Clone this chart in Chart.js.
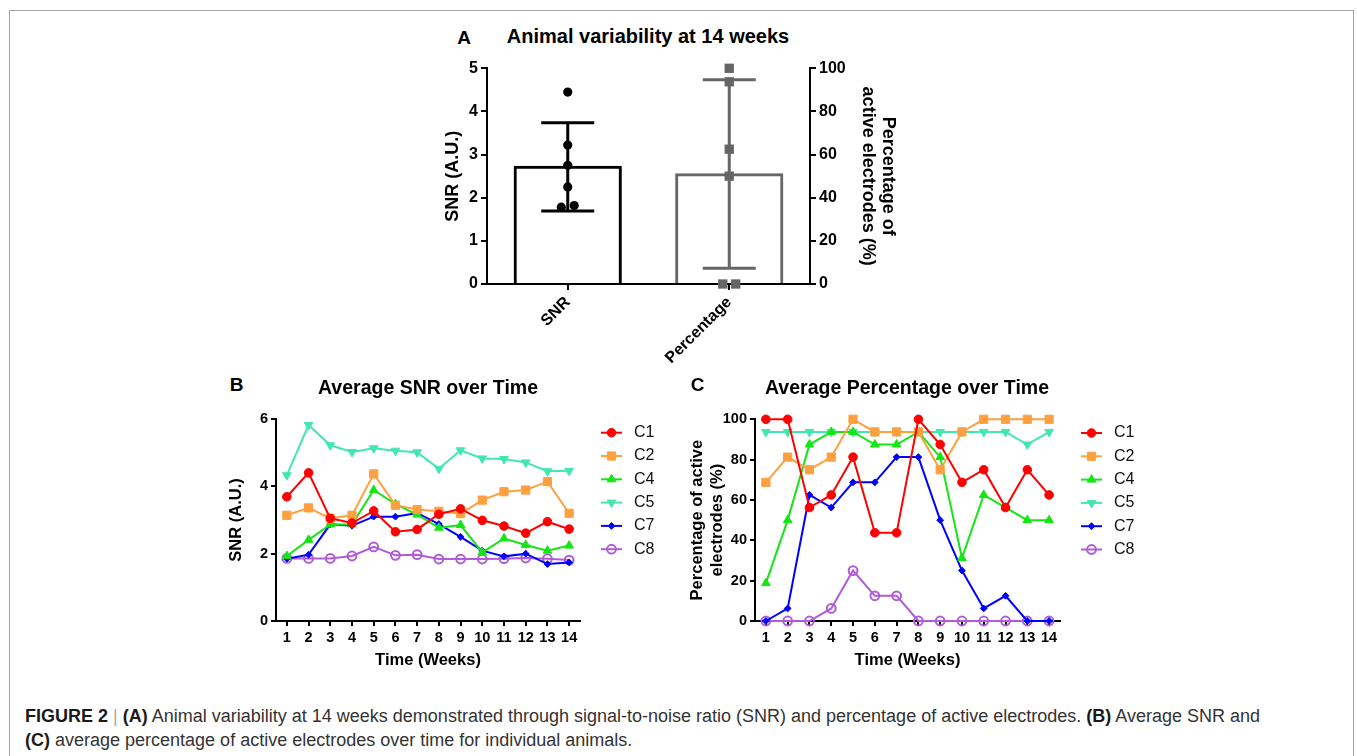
<!DOCTYPE html>
<html>
<head>
<meta charset="utf-8">
<title>Figure 2</title>
<script src="https://cdn.jsdelivr.net/npm/chart.js@4.4.1/dist/chart.umd.min.js"></script>
<style>
  html, body { margin: 0; padding: 0; background: #fff; }
  #page { position: relative; width: 1357px; height: 756px; overflow: hidden; background: #fff;
          font-family: "Liberation Sans", Arial, sans-serif; }
  .frame { position: absolute; left: 9px; top: 10px; width: 1345px; height: 800px; box-sizing: border-box;
           border: 1.5px solid #a3a3a3; border-bottom: none; }
  .box { position: absolute; }
  .lbl { position: absolute; transform: translate(-50%, -50%); line-height: 1; font-weight: bold;
         color: #000; white-space: nowrap; }
  .caption { position: absolute; left: 25px; top: 704px; font-size: 18px; line-height: 24px; color: #333;
             white-space: nowrap; }
  .caption b { color: #1a1a1a; }
  .caption .sep { color: #aaa; }
</style>
</head>
<body>
<div id="page">
  <div class="frame"></div>

  <div class="lbl" style="left:464px; top:36.7px; font-size:19px;">A</div>
  <div class="lbl" style="left:648px; top:36.3px; font-size:20px;">Animal variability at 14 weeks</div>
  <div class="box" style="left:438px; top:40px;"><canvas id="chartA" width="464" height="340"></canvas></div>

  <div class="lbl" style="left:236.5px; top:383.5px; font-size:19px;">B</div>
  <div class="lbl" style="left:428px; top:388.3px; font-size:19.5px;">Average SNR over Time</div>
  <div class="box" style="left:223px; top:400px;"><canvas id="chartB" width="447" height="274"></canvas></div>

  <div class="lbl" style="left:697.5px; top:383.5px; font-size:19px;">C</div>
  <div class="lbl" style="left:907px; top:388.3px; font-size:19.5px;">Average Percentage over Time</div>
  <div class="box" style="left:683px; top:400px;"><canvas id="chartC" width="467" height="274"></canvas></div>

  <div class="caption"><b>FIGURE 2</b> <span class="sep">|</span> <b>(A)</b> Animal variability at 14 weeks demonstrated through signal-to-noise ratio (SNR) and percentage of active electrodes. <b>(B)</b> Average SNR and<br><b>(C)</b> average percentage of active electrodes over time for individual animals.</div>
</div>

<script>
// ---- panel A: animal variability at week 14
const groupLabels = ['SNR', 'Percentage'];
const groupMeans = [2.74, 51.4];
const groupLow = [1.69, 7.3];
const groupHigh = [3.74, 94.7];
const snrAt14 = [4.45, 3.22, 2.75, 2.25, 1.78, 1.82];
const pctAt14 = [100, 93.75, 62.5, 50, 0, 0];

// ---- panels B and C: per animal over time
const weeks = ['1', '2', '3', '4', '5', '6', '7', '8', '9', '10', '11', '12', '13', '14'];
const animals = ['C1', 'C2', 'C4', 'C5', 'C7', 'C8'];

const snrC1 = [3.69, 4.40, 3.05, 2.91, 3.27, 2.65, 2.72, 3.17, 3.33, 2.99, 2.82, 2.61, 2.95, 2.73];
const snrC2 = [3.14, 3.36, 3.05, 3.14, 4.37, 3.44, 3.31, 3.26, 3.19, 3.59, 3.84, 3.89, 4.14, 3.20];
const snrC4 = [1.93, 2.41, 2.87, 2.87, 3.89, 3.47, 3.16, 2.77, 2.85, 2.04, 2.45, 2.26, 2.09, 2.24];
const snrC5 = [4.33, 5.82, 5.22, 5.02, 5.13, 5.06, 5.01, 4.52, 5.07, 4.83, 4.81, 4.71, 4.45, 4.46];
const snrC7 = [1.85, 1.97, 2.87, 2.83, 3.10, 3.10, 3.21, 2.88, 2.50, 2.09, 1.92, 2.00, 1.69, 1.74];
const snrC8 = [1.86, 1.86, 1.86, 1.93, 2.20, 1.95, 1.97, 1.84, 1.84, 1.84, 1.85, 1.87, 1.85, 1.81];

const pctC1 = [100, 100, 56.25, 62.5, 81.25, 43.75, 43.75, 100, 87.5, 68.75, 75, 56.25, 75, 62.5];
const pctC2 = [68.75, 81.25, 75, 81.25, 100, 93.75, 93.75, 93.75, 75, 93.75, 100, 100, 100, 100];
const pctC4 = [18.75, 50, 87.5, 93.75, 93.75, 87.5, 87.5, 93.75, 81.25, 31.25, 62.5, 56.25, 50, 50];
const pctC5 = [93.75, 93.75, 93.75, 93.75, 93.75, 93.75, 93.75, 93.75, 93.75, 93.75, 93.75, 93.75, 87.5, 93.75];
const pctC7 = [0, 6.25, 62.5, 56.25, 68.75, 68.75, 81.25, 81.25, 50, 25, 6.25, 12.5, 0, 0];
const pctC8 = [0, 0, 0, 6.25, 25, 12.5, 12.5, 0, 0, 0, 0, 0, 0, 0];

// look of each animal's line (same order as animals)
const seriesLook = [
  { color: '#ff0000', style: 'circle', r: 4.3, fill: true },
  { color: '#ffa040', style: 'rect', r: 5.8, fill: true },
  { color: '#14e614', style: 'triangle', r: 5, fill: true },
  { color: '#40e8b0', style: 'triangle', r: 5, fill: true, rot: 180 },
  { color: '#0000ff', style: 'rectRot', r: 3.4, fill: true },
  { color: '#b05cd8', style: 'circle', r: 4.4, fill: false },
];
// small sideways spread so overlapping dots in panel A stay visible
const dotSpread = [0, 0, 0, 0, -0.04, 0.04];

const FONT = '"Liberation Sans", Arial, sans-serif';
const GREY = '#666666';
const bold = (size, lineHeight) => ({ family: FONT, size, weight: 'bold', lineHeight: lineHeight || 1.2 });

function axisLook(tickLength) {
  return {
    border: { display: true, color: '#000', width: 2 },
    grid: { display: true, drawOnChartArea: false, drawTicks: true, tickLength, color: '#000', lineWidth: 2, offset: false },
  };
}

// error bars drawn right after each bar dataset
const errorBars = {
  id: 'errorBars',
  afterDatasetDraw(chart, args, opts) {
    const meta = args.meta;
    if (meta.type !== 'bar') return;
    const ds = chart.data.datasets[args.index];
    const scale = chart.scales[meta.yAxisID];
    const ctx = chart.ctx;
    ctx.save();
    ctx.strokeStyle = ds.borderColor;
    ctx.lineWidth = opts.width;
    meta.data.forEach((bar, j) => {
      if (ds.data[j] == null) return;
      const x = bar.x;
      const lo = scale.getPixelForValue(groupLow[j]);
      const hi = scale.getPixelForValue(groupHigh[j]);
      ctx.beginPath();
      ctx.moveTo(x, lo); ctx.lineTo(x, hi);
      ctx.moveTo(x - opts.cap, hi); ctx.lineTo(x + opts.cap, hi);
      ctx.moveTo(x - opts.cap, lo); ctx.lineTo(x + opts.cap, lo);
      ctx.stroke();
    });
    ctx.restore();
  }
};

// legend with a short line and the marker, like the original figure
const lineLegend = {
  id: 'lineLegend',
  afterDraw(chart, args, opts) {
    const { ctx, chartArea } = chart;
    const drawPoint = Chart.helpers && Chart.helpers.drawPoint;
    ctx.save();
    chart.data.datasets.forEach((ds, i) => {
      const y = chartArea.top + opts.top + i * opts.gap;
      const x0 = chartArea.right + opts.left;
      ctx.strokeStyle = ds.borderColor;
      ctx.lineWidth = ds.borderWidth;
      ctx.beginPath();
      ctx.moveTo(x0, y);
      ctx.lineTo(x0 + opts.lineLen, y);
      ctx.stroke();
      ctx.fillStyle = ds.pointBackgroundColor;
      ctx.strokeStyle = ds.pointBorderColor;
      ctx.lineWidth = ds.pointBorderWidth;
      const cx = x0 + opts.lineLen / 2;
      if (drawPoint) {
        drawPoint(ctx, { pointStyle: ds.pointStyle, rotation: ds.pointRotation || 0, radius: ds.pointRadius, borderWidth: ds.pointBorderWidth }, cx, y);
      } else {
        ctx.beginPath(); ctx.arc(cx, y, ds.pointRadius, 0, Math.PI * 2); ctx.fill(); ctx.stroke();
      }
      ctx.fillStyle = '#111';
      ctx.font = opts.fontSize + 'px ' + FONT;
      ctx.textBaseline = 'middle';
      ctx.textAlign = 'left';
      ctx.fillText(ds.label, x0 + opts.textOffset, y);
    });
    ctx.restore();
  }
};

function lineSets(seriesList) {
  return seriesList.map((values, i) => {
    const look = seriesLook[i];
    return {
      label: animals[i],
      data: values,
      borderColor: look.color,
      backgroundColor: look.color,
      borderWidth: 2,
      tension: 0,
      pointStyle: look.style,
      pointRotation: look.rot || 0,
      pointRadius: look.r,
      pointHoverRadius: look.r,
      pointBackgroundColor: look.fill ? look.color : 'rgba(0,0,0,0)',
      pointBorderColor: look.color,
      pointBorderWidth: look.fill ? 1 : 2,
      clip: false,
    };
  });
}

function lineOptions(yMax, yStep, yTitle, yTitleLH, yWidth, topPad) {
  return {
    responsive: false,
    animation: false,
    devicePixelRatio: 1,
    layout: { padding: { top: topPad, right: 90, bottom: 0, left: 0 } },
    plugins: {
      legend: { display: false },
      tooltip: { enabled: false },
      lineLegend: { top: 13.7, gap: 23.3, left: 21, lineLen: 21, textOffset: 33, fontSize: 16 },
    },
    scales: {
      x: {
        type: 'category',
        offset: true,
        ...axisLook(5),
        ticks: { font: bold(14.5), color: '#000', autoSkip: false, maxRotation: 0, minRotation: 0, padding: 3 },
        title: { display: true, text: 'Time (Weeks)', font: bold(16.5), color: '#000', padding: { top: 4, bottom: 4 } },
        afterFit: (s) => { s.height = 53; },
      },
      y: {
        min: 0,
        max: yMax,
        ...axisLook(5),
        ticks: { stepSize: yStep, font: bold(14.5), color: '#000', padding: 3 },
        title: { display: true, text: yTitle, font: bold(16.5, yTitleLH), color: '#000', padding: { top: 4, bottom: 4 } },
        afterFit: (s) => { s.width = yWidth; },
      },
    },
  };
}

// ---- chart A
new Chart(document.getElementById('chartA'), {
  type: 'bar',
  data: {
    labels: groupLabels,
    datasets: [
      {
        label: 'SNR', data: [groupMeans[0], null], yAxisID: 'y', grouped: false, order: 2,
        backgroundColor: 'rgba(255,255,255,0)', borderColor: '#000', borderWidth: 3,
        barPercentage: 0.67, categoryPercentage: 1,
      },
      {
        label: 'Percentage', data: [null, groupMeans[1]], yAxisID: 'y2', grouped: false, order: 2,
        backgroundColor: 'rgba(255,255,255,0)', borderColor: GREY, borderWidth: 3,
        barPercentage: 0.67, categoryPercentage: 1,
      },
      {
        type: 'scatter', label: 'SNR animals', xAxisID: 'xs', yAxisID: 'y', order: 1, clip: false,
        data: snrAt14.map((v, i) => ({ x: 0 + dotSpread[i], y: v })),
        pointStyle: 'circle', pointRadius: 4.6, pointHoverRadius: 4.6,
        pointBackgroundColor: '#000', pointBorderColor: '#000', pointBorderWidth: 0,
      },
      {
        type: 'scatter', label: 'Percentage animals', xAxisID: 'xs', yAxisID: 'y2', order: 1, clip: false,
        data: pctAt14.map((v, i) => ({ x: 1 + dotSpread[i], y: v })),
        pointStyle: 'rect', pointRadius: 6.6, pointHoverRadius: 6.6,
        pointBackgroundColor: GREY, pointBorderColor: GREY, pointBorderWidth: 0,
      },
    ],
  },
  options: {
    responsive: false,
    animation: false,
    devicePixelRatio: 1,
    layout: { padding: { top: 28.3, right: 0, bottom: 0, left: 0 } },
    plugins: {
      legend: { display: false },
      tooltip: { enabled: false },
      errorBars: { width: 3, cap: 26.5 },
    },
    scales: {
      x: {
        type: 'category',
        offset: true,
        ...axisLook(6),
        ticks: { font: bold(16), color: '#000', minRotation: 45, maxRotation: 45, padding: 3 },
        afterFit: (s) => { s.height = 96; },
      },
      xs: { type: 'linear', display: false, offset: false, min: -0.5, max: 1.5 },
      y: {
        position: 'left',
        min: 0,
        max: 5,
        ...axisLook(6),
        ticks: { stepSize: 1, font: bold(16), color: '#000', padding: 3 },
        title: { display: true, text: 'SNR (A.U.)', font: bold(18), color: '#000', padding: { top: 4, bottom: 4 } },
        afterFit: (s) => { s.width = 49; },
      },
      y2: {
        position: 'right',
        min: 0,
        max: 100,
        ...axisLook(6),
        ticks: { stepSize: 20, font: bold(16), color: '#000', padding: 3 },
        title: { display: true, text: ['Percentage of', 'active electrodes (%)'], font: bold(18, 1.12), color: '#000', padding: { top: 4, bottom: 4 } },
        afterFit: (s) => { s.width = 92; },
      },
    },
  },
  plugins: [errorBars],
});

// ---- chart B
new Chart(document.getElementById('chartB'), {
  type: 'line',
  data: { labels: weeks, datasets: lineSets([snrC1, snrC2, snrC4, snrC5, snrC7, snrC8]) },
  options: lineOptions(6, 2, 'SNR (A.U.)', 1.2, 53, 19),
  plugins: [lineLegend],
});

// ---- chart C
new Chart(document.getElementById('chartC'), {
  type: 'line',
  data: { labels: weeks, datasets: lineSets([pctC1, pctC2, pctC4, pctC5, pctC7, pctC8]) },
  options: lineOptions(100, 20, ['Percentage of active', 'electrodes (%)'], 1.24, 72, 19.3),
  plugins: [lineLegend],
});
</script>
</body>
</html>
